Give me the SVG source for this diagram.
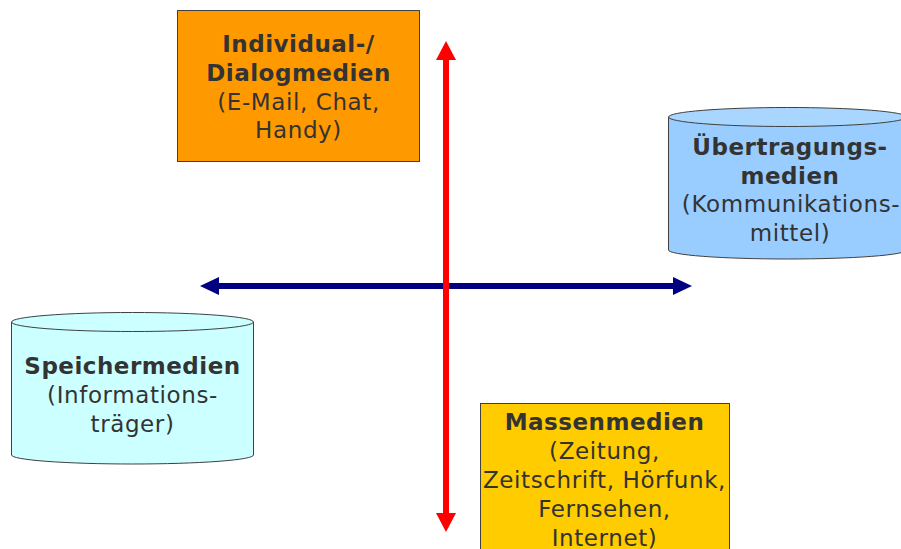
<svg xmlns="http://www.w3.org/2000/svg" width="901" height="549" viewBox="0 0 901 549">
<style>
  .t { font-family: "DejaVu Sans", Verdana, sans-serif; font-size: 23px; fill: #333333; text-anchor: middle; letter-spacing: 0.6px; }
  .b { font-weight: bold; letter-spacing: 0.5px; }
  .box { stroke: #404040; stroke-width: 1; }
</style>
<defs>
  <marker id="redHead" markerUnits="userSpaceOnUse" viewBox="0 0 19 20" refX="0" refY="10" markerWidth="19" markerHeight="20" orient="auto-start-reverse">
    <path d="M0,0 L19,10 L0,20 Z" fill="#FF0000"/>
  </marker>
  <marker id="blueHead" markerUnits="userSpaceOnUse" viewBox="0 0 19 18" refX="0" refY="9" markerWidth="19" markerHeight="18" orient="auto-start-reverse">
    <path d="M0,0 L19,9 L0,18 Z" fill="#000080"/>
  </marker>
</defs>
<rect width="901" height="549" fill="#FFFFFF"/>

<g id="individual">
  <rect class="box" x="177.5" y="10.5" width="242" height="151" fill="#FF9900"/>
  <text class="t b" x="298.5" y="52">Individual-/</text>
  <text class="t b" x="298.5" y="81">Dialogmedien</text>
  <text class="t" x="298.5" y="110">(E-Mail, Chat,</text>
  <text class="t" x="298.5" y="138">Handy)</text>
</g>

<g id="uebertragung">
  <path class="box" d="M668.5,117 L668.5,250 A119,9 0 0 0 906.5,250 L906.5,117" fill="#99CCFF"/>
  <ellipse class="box" cx="787.5" cy="117" rx="119" ry="9.5" fill="#A8D6FF"/>
  <text class="t b" x="790" y="155">Übertragungs-</text>
  <text class="t b" x="790" y="184">medien</text>
  <text class="t" x="791" y="212">(Kommunikations-</text>
  <text class="t" x="790" y="241">mittel)</text>
</g>

<g id="speicher">
  <path class="box" d="M11.5,322 L11.5,455 A121,9 0 0 0 253.5,455 L253.5,322" fill="#CCFFFF"/>
  <ellipse class="box" cx="132.5" cy="322" rx="121" ry="9.5" fill="#CCFFFF"/>
  <text class="t b" x="132.5" y="374">Speichermedien</text>
  <text class="t" x="132.5" y="403">(Informations-</text>
  <text class="t" x="132.5" y="432">träger)</text>
</g>

<g id="massen">
  <rect class="box" x="480.5" y="403.5" width="249" height="160" fill="#FFCC00"/>
  <text class="t b" x="604.5" y="430">Massenmedien</text>
  <text class="t" x="604.5" y="459">(Zeitung,</text>
  <text class="t" x="604.5" y="488">Zeitschrift, Hörfunk,</text>
  <text class="t" x="604.5" y="517">Fernsehen,</text>
  <text class="t" x="604.5" y="546">Internet)</text>
</g>

<g id="connectors">
  <line x1="219" y1="286" x2="673" y2="286" stroke="#000080" stroke-width="6" marker-start="url(#blueHead)" marker-end="url(#blueHead)"/>
  <line x1="446" y1="60" x2="446" y2="513" stroke="#FF0000" stroke-width="6" marker-start="url(#redHead)" marker-end="url(#redHead)"/>
</g>
</svg>
